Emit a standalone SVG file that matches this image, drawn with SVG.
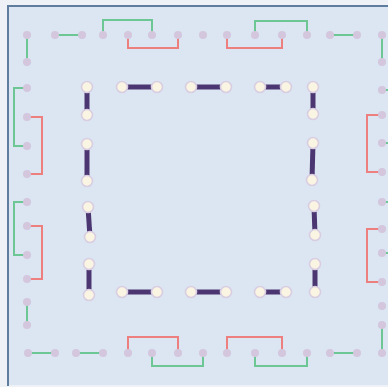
<svg xmlns="http://www.w3.org/2000/svg" width="388" height="387" viewBox="0 0 388 387">
<style>
.bg{fill:#dce6f2}
.edge{fill:none;stroke:#5f7d9e;stroke-width:2}
.d{fill:#d3c6dd}
.n{fill:#f9f5e2;stroke:#d9cde2;stroke-width:1.6}
.g{fill:none;stroke:#6cc795;stroke-width:2}
.r{fill:none;stroke:#ee7f7f;stroke-width:2}
.b{fill:none;stroke:#4b3672;stroke-width:5}
</style>
<rect x="0" y="0" width="388" height="387" fill="#eef2f7"/>
<rect class="bg" x="8" y="6" width="400" height="379"/>
<path class="edge" d="M8,386V6H400"/>
<g id="connectors">
<path class="g" d="M27,35V62"/>
<path class="g" d="M55,35H82"/>
<path class="g" d="M103,35V20H152V35"/>
<path class="r" d="M128,35V48H178V35"/>
<path class="r" d="M227,35V48H282V35"/>
<path class="g" d="M255,35V21H307V35"/>
<path class="g" d="M330,35H357"/>
<path class="g" d="M382,35V62"/>
<path class="g" d="M27,88H14V146H27"/>
<path class="r" d="M27,117H42V174H27"/>
<path class="g" d="M27,202H14V255H27"/>
<path class="r" d="M27,226H42V279H27"/>
<path class="g" d="M27,302V325"/>
<path class="g" d="M382,90H397V143H382"/>
<path class="r" d="M382,115H367V172H382"/>
<path class="g" d="M382,202H397V253H382"/>
<path class="r" d="M382,229H367V282H382"/>
<path class="g" d="M382,325V353"/>
<path class="g" d="M28,353H55"/>
<path class="g" d="M76,353H103"/>
<path class="r" d="M128,353V337H178V353"/>
<path class="g" d="M152,353V366H203V353"/>
<path class="r" d="M227,353V337H282V353"/>
<path class="g" d="M255,353V366H307V353"/>
<path class="g" d="M330,353H357"/>
<path class="b" d="M87,87L87,115"/>
<path class="b" d="M122,87H157"/>
<path class="b" d="M191,87H226"/>
<path class="b" d="M260,87H286"/>
<path class="b" d="M313,87V114"/>
<path class="b" d="M87,144V181"/>
<path class="b" d="M88,207L90,237"/>
<path class="b" d="M89,264V295"/>
<path class="b" d="M122,292H157"/>
<path class="b" d="M191,292H226"/>
<path class="b" d="M260,292H286"/>
<path class="b" d="M315,264V292"/>
<path class="b" d="M313,143L312,180"/>
<path class="b" d="M314,206L315,235"/>
</g>
<g id="t1"><circle class="d" cx="27" cy="35" r="4"/></g>
<g id="t2"><circle class="d" cx="55" cy="35" r="4"/></g>
<g id="t3"><circle class="d" cx="82" cy="35" r="4"/></g>
<g id="t4"><circle class="d" cx="103" cy="35" r="4"/></g>
<g id="t5"><circle class="d" cx="128" cy="35" r="4"/></g>
<g id="t6"><circle class="d" cx="152" cy="35" r="4"/></g>
<g id="t7"><circle class="d" cx="178" cy="35" r="4"/></g>
<g id="t8"><circle class="d" cx="203" cy="35" r="4"/></g>
<g id="t9"><circle class="d" cx="227" cy="35" r="4"/></g>
<g id="t10"><circle class="d" cx="255" cy="35" r="4"/></g>
<g id="t11"><circle class="d" cx="282" cy="35" r="4"/></g>
<g id="t12"><circle class="d" cx="307" cy="35" r="4"/></g>
<g id="t13"><circle class="d" cx="330" cy="35" r="4"/></g>
<g id="t14"><circle class="d" cx="357" cy="35" r="4"/></g>
<g id="t15"><circle class="d" cx="382" cy="35" r="4"/></g>
<g id="l1"><circle class="d" cx="27" cy="62" r="4"/></g>
<g id="l2"><circle class="d" cx="27" cy="88" r="4"/></g>
<g id="l3"><circle class="d" cx="27" cy="117" r="4"/></g>
<g id="l4"><circle class="d" cx="27" cy="146" r="4"/></g>
<g id="l5"><circle class="d" cx="27" cy="174" r="4"/></g>
<g id="l6"><circle class="d" cx="27" cy="202" r="4"/></g>
<g id="l7"><circle class="d" cx="27" cy="226" r="4"/></g>
<g id="l8"><circle class="d" cx="27" cy="255" r="4"/></g>
<g id="l9"><circle class="d" cx="27" cy="279" r="4"/></g>
<g id="l10"><circle class="d" cx="27" cy="302" r="4"/></g>
<g id="l11"><circle class="d" cx="27" cy="325" r="4"/></g>
<g id="r1"><circle class="d" cx="382" cy="62" r="4"/></g>
<g id="r2"><circle class="d" cx="382" cy="90" r="4"/></g>
<g id="r3"><circle class="d" cx="382" cy="115" r="4"/></g>
<g id="r4"><circle class="d" cx="382" cy="143" r="4"/></g>
<g id="r5"><circle class="d" cx="382" cy="172" r="4"/></g>
<g id="r6"><circle class="d" cx="382" cy="202" r="4"/></g>
<g id="r7"><circle class="d" cx="382" cy="229" r="4"/></g>
<g id="r8"><circle class="d" cx="382" cy="253" r="4"/></g>
<g id="r9"><circle class="d" cx="382" cy="282" r="4"/></g>
<g id="r10"><circle class="d" cx="382" cy="306" r="4"/></g>
<g id="r11"><circle class="d" cx="382" cy="325" r="4"/></g>
<g id="b1"><circle class="d" cx="28" cy="353" r="4"/></g>
<g id="b2"><circle class="d" cx="55" cy="353" r="4"/></g>
<g id="b3"><circle class="d" cx="76" cy="353" r="4"/></g>
<g id="b4"><circle class="d" cx="103" cy="353" r="4"/></g>
<g id="b5"><circle class="d" cx="128" cy="353" r="4"/></g>
<g id="b6"><circle class="d" cx="152" cy="353" r="4"/></g>
<g id="b7"><circle class="d" cx="178" cy="353" r="4"/></g>
<g id="b8"><circle class="d" cx="203" cy="353" r="4"/></g>
<g id="b9"><circle class="d" cx="227" cy="353" r="4"/></g>
<g id="b10"><circle class="d" cx="255" cy="353" r="4"/></g>
<g id="b11"><circle class="d" cx="282" cy="353" r="4"/></g>
<g id="b12"><circle class="d" cx="307" cy="353" r="4"/></g>
<g id="b13"><circle class="d" cx="330" cy="353" r="4"/></g>
<g id="b14"><circle class="d" cx="357" cy="353" r="4"/></g>
<g id="b15"><circle class="d" cx="382" cy="353" r="4"/></g>
<g id="i1"><circle class="n" cx="87" cy="87" r="5.5"/></g>
<g id="i2"><circle class="n" cx="87" cy="115" r="5.5"/></g>
<g id="i3"><circle class="n" cx="122" cy="87" r="5.5"/></g>
<g id="i4"><circle class="n" cx="157" cy="87" r="5.5"/></g>
<g id="i5"><circle class="n" cx="191" cy="87" r="5.5"/></g>
<g id="i6"><circle class="n" cx="226" cy="87" r="5.5"/></g>
<g id="i7"><circle class="n" cx="260" cy="87" r="5.5"/></g>
<g id="i8"><circle class="n" cx="286" cy="87" r="5.5"/></g>
<g id="i9"><circle class="n" cx="313" cy="87" r="5.5"/></g>
<g id="i10"><circle class="n" cx="313" cy="114" r="5.5"/></g>
<g id="i11"><circle class="n" cx="87" cy="144" r="5.5"/></g>
<g id="i12"><circle class="n" cx="87" cy="181" r="5.5"/></g>
<g id="i13"><circle class="n" cx="88" cy="207" r="5.5"/></g>
<g id="i14"><circle class="n" cx="90" cy="237" r="5.5"/></g>
<g id="i15"><circle class="n" cx="89" cy="264" r="5.5"/></g>
<g id="i16"><circle class="n" cx="89" cy="295" r="5.5"/></g>
<g id="i17"><circle class="n" cx="122" cy="292" r="5.5"/></g>
<g id="i18"><circle class="n" cx="157" cy="292" r="5.5"/></g>
<g id="i19"><circle class="n" cx="191" cy="292" r="5.5"/></g>
<g id="i20"><circle class="n" cx="226" cy="292" r="5.5"/></g>
<g id="i21"><circle class="n" cx="260" cy="292" r="5.5"/></g>
<g id="i22"><circle class="n" cx="286" cy="292" r="5.5"/></g>
<g id="i23"><circle class="n" cx="315" cy="264" r="5.5"/></g>
<g id="i24"><circle class="n" cx="315" cy="292" r="5.5"/></g>
<g id="i25"><circle class="n" cx="313" cy="143" r="5.5"/></g>
<g id="i26"><circle class="n" cx="312" cy="180" r="5.5"/></g>
<g id="i27"><circle class="n" cx="314" cy="206" r="5.5"/></g>
<g id="i28"><circle class="n" cx="315" cy="235" r="5.5"/></g>
</svg>
